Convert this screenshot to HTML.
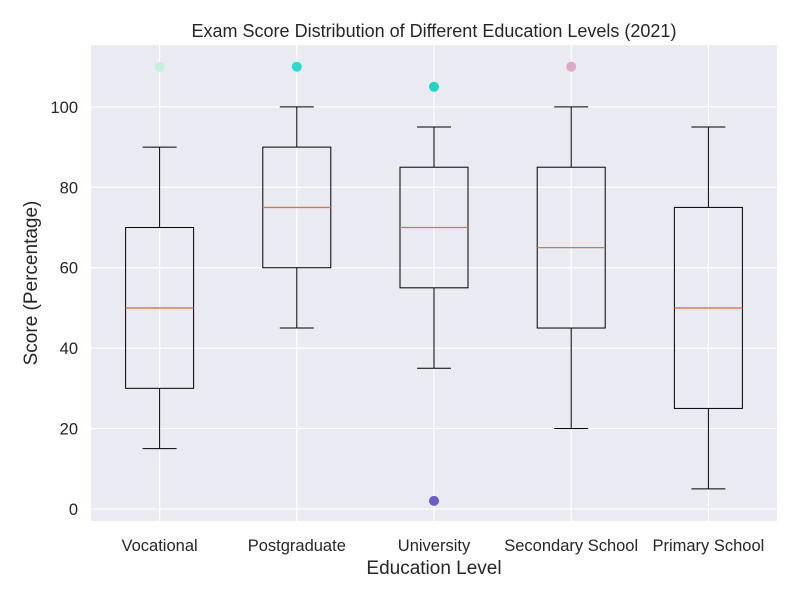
<!DOCTYPE html>
<html><head><meta charset="utf-8"><style>
body{margin:0;background:#fff;font-family:"Liberation Sans","DejaVu Sans",sans-serif}
</style></head><body>
<svg id="c" width="800" height="600" xmlns="http://www.w3.org/2000/svg"></svg>
<script>
const categories=["Vocational","Postgraduate","University","Secondary School","Primary School"];
const whiskerLow=[15,45,35,20,5];
const q1=[30,60,55,45,25];
const medians=[50,75,70,65,50];
const q3=[70,90,85,85,75];
const whiskerHigh=[90,100,95,100,95];
const outlierCat=[0,1,2,2,3];
const outlierVal=[110,110,105,2,110];
const outlierColor=["#c6f0d8","#22e0cc","#18d8c4","#6a5acd","#e0a8c8"];
const yTicks=[0,20,40,60,80,100];

const NS="http://www.w3.org/2000/svg";
const svg=document.getElementById('c');
const L=91,R=777,T=45,B=521,ymin=-3,ymax=115.4;
const xs=i=>L+(i+0.5)*(R-L)/categories.length;
const ys=v=>B-(v-ymin)/(ymax-ymin)*(B-T);
function mk(tag,a,p){const e=document.createElementNS(NS,tag);for(const k in a)e.setAttribute(k,a[k]);(p||svg).appendChild(e);return e;}
let e=mk('rect',{x:L,y:T,width:R-L,height:B-T,fill:'#eaeaf2'});


yTicks.forEach(v=>{
 let g=mk('line',{x1:L,x2:R,y1:ys(v),y2:ys(v),stroke:'#fff','stroke-width':1.2});
 
 
 let t=mk('text',{x:L-13,y:ys(v)+6,'text-anchor':'end','font-size':16.5,fill:'#262626'});t.textContent=v;
 
 
});
categories.forEach((c,i)=>{
 const x=xs(i);
 let g=mk('line',{x1:x,x2:x,y1:T,y2:B,stroke:'#fff','stroke-width':1.2});
 
 
 let t=mk('text',{x:x,y:551,'text-anchor':'middle','font-size':16.5,fill:'#262626'});t.textContent=c;
 
 
});
categories.forEach((c,i)=>{
 const x=xs(i),hw=34,cw=17;
 const g=mk('g',{});
 
 
 mk('line',{x1:x,x2:x,y1:ys(q3[i]),y2:ys(whiskerHigh[i]),stroke:'#000'},g);
 mk('line',{x1:x,x2:x,y1:ys(q1[i]),y2:ys(whiskerLow[i]),stroke:'#000'},g);
 mk('line',{x1:x-cw,x2:x+cw,y1:ys(whiskerHigh[i]),y2:ys(whiskerHigh[i]),stroke:'#000'},g);
 mk('line',{x1:x-cw,x2:x+cw,y1:ys(whiskerLow[i]),y2:ys(whiskerLow[i]),stroke:'#000'},g);
 mk('rect',{x:x-hw,y:ys(q3[i]),width:2*hw,height:ys(q1[i])-ys(q3[i]),fill:'none',stroke:'#000'},g);
 mk('line',{x1:x-hw,x2:x+hw,y1:ys(medians[i]),y2:ys(medians[i]),stroke:'#e0743c','stroke-width':1.3},g);
});
outlierVal.forEach((v,k)=>{
 let o=mk('circle',{cx:xs(outlierCat[k]),cy:ys(v),r:5,fill:outlierColor[k]});
 
 
});
let t=mk('text',{x:434,y:37,'text-anchor':'middle','font-size':18,fill:'#262626'});t.textContent='Exam Score Distribution of Different Education Levels (2021)';


t=mk('text',{x:434,y:574,'text-anchor':'middle','font-size':19,fill:'#262626'});t.textContent='Education Level';


t=mk('text',{x:0,y:0,'text-anchor':'middle','font-size':19,fill:'#262626',transform:'translate(37,283) rotate(-90)'});t.textContent='Score (Percentage)';


</script>
</body></html>
